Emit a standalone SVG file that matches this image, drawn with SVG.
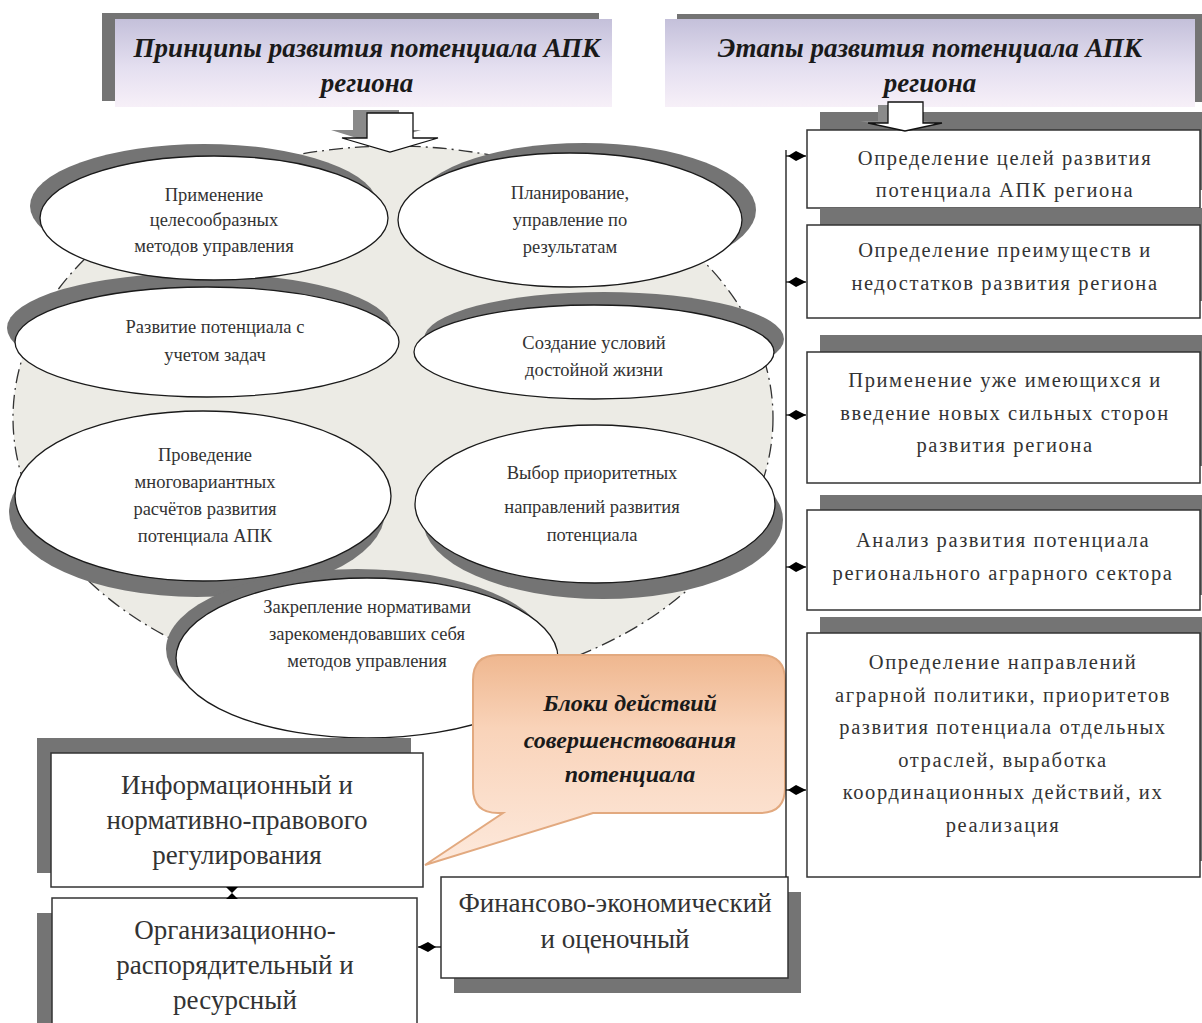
<svg xmlns="http://www.w3.org/2000/svg" width="1202" height="1023" viewBox="0 0 1202 1023">
<defs>
<linearGradient id="gTitle" x1="0" y1="0" x2="0" y2="1">
<stop offset="0" stop-color="#c4c0da"/>
<stop offset="0.55" stop-color="#e4dff0"/>
<stop offset="1" stop-color="#f7f0f8"/>
</linearGradient>
<linearGradient id="gCall" x1="0" y1="0" x2="0" y2="1">
<stop offset="0" stop-color="#efb78f"/>
<stop offset="0.35" stop-color="#f9d3b9"/>
<stop offset="1" stop-color="#fde9dc"/>
</linearGradient>
<marker id="dm" viewBox="0 0 18 10" refX="18" refY="5" markerWidth="18" markerHeight="10" markerUnits="userSpaceOnUse" orient="auto">
<path d="M0,5 L8,0 L18,5 L8,10 Z" fill="#000"/>
</marker>
<style>
.ttl{font-family:"Liberation Serif","DejaVu Serif",serif;font-style:italic;font-weight:bold;font-size:27px;fill:#1a1a1a;text-anchor:middle}
.el{font-family:"Liberation Serif","DejaVu Serif",serif;font-size:18.5px;fill:#333;text-anchor:middle}
.rb{font-family:"Liberation Serif","DejaVu Serif",serif;font-size:20.5px;letter-spacing:1.6px;fill:#333;text-anchor:middle}
.lb{font-family:"Liberation Serif","DejaVu Serif",serif;font-size:27px;fill:#333;text-anchor:middle}
.cl{font-family:"Liberation Serif","DejaVu Serif",serif;font-style:italic;font-weight:bold;font-size:24px;fill:#1a1a1a;text-anchor:middle}
.sh{fill:#747474}
.wel{fill:#fff;stroke:#1a1a1a;stroke-width:1.3}
.box{fill:#fff;stroke:#333;stroke-width:1.5}
.ln{fill:none;stroke:#111;stroke-width:1.3}
</style>
</defs>
<rect width="1202" height="1023" fill="#fff"/>

<g id="field">
<ellipse cx="393" cy="418" rx="380" ry="272" fill="#ecebe5" stroke="#333" stroke-width="1.3" stroke-dasharray="14,5,2,5"/>
</g>

<g id="shadows">
<ellipse class="sh" cx="204" cy="206" rx="174" ry="62"/>
<ellipse class="sh" cx="584" cy="210" rx="172" ry="67"/>
<ellipse class="sh" cx="199" cy="328" rx="192" ry="55"/>
<ellipse class="sh" cx="604" cy="339" rx="180" ry="47"/>
<ellipse class="sh" cx="197" cy="512" rx="188" ry="85"/>
<ellipse class="sh" cx="603" cy="520" rx="180" ry="79"/>
<ellipse class="sh" cx="357" cy="649" rx="191" ry="80"/>
</g>

<g id="p1"><ellipse class="wel" cx="214" cy="218" rx="174" ry="62"/>
<text class="el" x="214" y="201">Применение</text><text class="el" x="214" y="226">целесообразных</text><text class="el" x="214" y="252">методов управления</text></g>
<g id="p2"><ellipse class="wel" cx="570" cy="220" rx="172" ry="67"/>
<text class="el" x="570" y="199">Планирование,</text><text class="el" x="570" y="226">управление по</text><text class="el" x="570" y="253">результатам</text></g>
<g id="p3"><ellipse class="wel" cx="207" cy="342" rx="192" ry="55"/>
<text class="el" x="215" y="333">Развитие потенциала с</text><text class="el" x="215" y="361">учетом задач</text></g>
<g id="p4"><ellipse class="wel" cx="594" cy="352" rx="180" ry="47"/>
<text class="el" x="594" y="349">Создание условий</text><text class="el" x="594" y="376">достойной жизни</text></g>
<g id="p5"><ellipse class="wel" cx="203" cy="496" rx="188" ry="85"/>
<text class="el" x="205" y="461">Проведение</text><text class="el" x="205" y="488">многовариантных</text><text class="el" x="205" y="515">расчётов развития</text><text class="el" x="205" y="542">потенциала АПК</text></g>
<g id="p6"><ellipse class="wel" cx="595" cy="504" rx="180" ry="79"/>
<text class="el" x="592" y="479">Выбор приоритетных</text><text class="el" x="592" y="513">направлений развития</text><text class="el" x="592" y="541">потенциала</text></g>
<g id="p7"><ellipse class="wel" cx="367" cy="658" rx="191" ry="80"/>
<text class="el" x="367" y="613">Закрепление нормативами</text><text class="el" x="367" y="640">зарекомендовавших себя</text><text class="el" x="367" y="667">методов управления</text></g>

<g id="title-left">
<rect class="sh" x="102" y="13" width="497" height="88"/>
<rect x="115" y="19" width="497" height="88" fill="url(#gTitle)"/>
<text class="ttl" x="367" y="57">Принципы развития потенциала АПК</text>
<text class="ttl" x="367" y="92">региона</text>
<polygon points="353,110 399,110 399,130 421,130 376,144 331,130 353,130" fill="#8a8a8a"/>
<polygon points="367,113 413,113 413,138 438,138 390,152 342,138 367,138" fill="#fff" stroke="#111" stroke-width="1.3"/>
</g>

<g id="title-right">
<rect class="sh" x="677" y="14" width="525" height="88"/>
<rect x="665" y="19" width="530" height="88" fill="url(#gTitle)"/>
<text class="ttl" x="930" y="57">Этапы развития потенциала АПК</text>
<text class="ttl" x="930" y="92">региона</text>
</g>

<g id="s1"><rect class="sh" x="820" y="112" width="395" height="78"/><rect class="box" x="807" y="130" width="393" height="78"/>
<text class="rb" x="1005" y="165">Определение целей  развития</text><text class="rb" x="1005" y="197">потенциала АПК региона</text></g>
<g id="s2"><rect class="sh" x="820" y="208" width="395" height="93"/><rect class="box" x="807" y="225" width="393" height="93"/>
<text class="rb" x="1005" y="257">Определение преимуществ и</text><text class="rb" x="1005" y="290">недостатков развития региона</text></g>
<g id="s3"><rect class="sh" x="820" y="335" width="395" height="131"/><rect class="box" x="807" y="352" width="393" height="131"/>
<text class="rb" x="1005" y="387">Применение уже имеющихся и</text><text class="rb" x="1005" y="420">введение новых сильных сторон</text><text class="rb" x="1005" y="452">развития региона</text></g>
<g id="s4"><rect class="sh" x="820" y="495" width="395" height="100"/><rect class="box" x="807" y="510" width="393" height="100"/>
<text class="rb" x="1003" y="547">Анализ развития потенциала</text><text class="rb" x="1003" y="580">регионального аграрного сектора</text></g>
<g id="s5"><rect class="sh" x="820" y="617" width="395" height="244"/><rect class="box" x="807" y="633" width="393" height="244"/>
<text class="rb" x="1003" y="669">Определение направлений</text><text class="rb" x="1003" y="702">аграрной политики, приоритетов</text><text class="rb" x="1003" y="734">развития потенциала отдельных</text><text class="rb" x="1003" y="767">отраслей, выработка</text><text class="rb" x="1003" y="799">координационных действий, их</text><text class="rb" x="1003" y="832">реализация</text></g>

<g id="arrow-right">
<polygon points="878,105 913,105 913,121 930,121 895,128 860,121 878,121" fill="#8a8a8a"/>
<polygon points="888,102 923,102 923,123 942,123 905,131 868,123 888,123" fill="#fff" stroke="#111" stroke-width="1.3"/>
</g>

<g id="b1"><rect class="sh" x="37" y="738" width="374" height="135"/><rect class="box" x="51" y="753" width="372" height="134"/>
<text class="lb" x="237" y="794">Информационный и</text><text class="lb" x="237" y="829">нормативно-правового</text><text class="lb" x="237" y="864">регулирования</text></g>
<g id="b2"><rect class="sh" x="37" y="913" width="365" height="120"/><rect class="box" x="52" y="898" width="365" height="130"/>
<text class="lb" x="235" y="939">Организационно-</text><text class="lb" x="235" y="974">распорядительный и</text><text class="lb" x="235" y="1009">ресурсный</text></g>
<g id="b3"><rect class="sh" x="454" y="892" width="347" height="101"/><rect class="box" x="441" y="877" width="347" height="101"/>
<text class="lb" x="615" y="912">Финансово-экономический</text><text class="lb" x="615" y="948">и оценочный</text></g>

<g id="callout">
<path d="M498,655 H760 Q785,655 785,680 V788 Q785,813 760,813 H593 L425,865 L503,813 H498 Q473,813 473,788 V680 Q473,655 498,655 Z" fill="url(#gCall)" stroke="#e2a97f" stroke-width="2"/>
<text class="cl" x="630" y="711">Блоки действий</text>
<text class="cl" x="630" y="748">совершенствования</text>
<text class="cl" x="630" y="782">потенциала</text>
</g>

<g id="connectors">
<path class="ln" d="M786,150 V877"/>
<path class="ln" d="M786,156 H806" marker-end="url(#dm)"/>
<path class="ln" d="M786,282 H806" marker-end="url(#dm)"/>
<path class="ln" d="M786,415 H806" marker-end="url(#dm)"/>
<path class="ln" d="M786,567 H806" marker-end="url(#dm)"/>
<path class="ln" d="M786,790 H806" marker-end="url(#dm)"/>
<path class="ln" d="M441,947 H418" marker-end="url(#dm)"/>
<path d="M226,887 H238 L232,893 Z M226,899 H238 L232,893 Z" fill="#000"/>
</g>
</svg>
